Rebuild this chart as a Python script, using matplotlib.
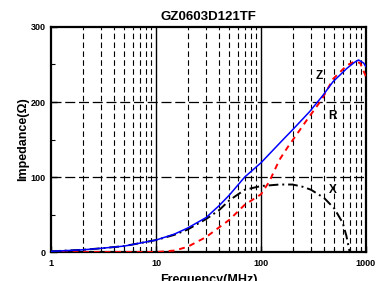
import numpy as np
import matplotlib
matplotlib.use("Agg")
import matplotlib.pyplot as plt
from matplotlib.ticker import FixedLocator, NullFormatter

# readings from the datasheet curve
freq_z = [1, 2, 3, 5, 10, 15, 20, 30, 40, 50, 70, 100, 160, 200, 290, 390, 485, 660, 780, 850, 950, 1000]
imp_z = [1, 3, 5, 8, 16, 24, 32, 46, 62, 76, 100, 119, 149, 163, 187, 209, 227, 245, 253, 256, 252, 247]

freq_r = [1, 2, 5, 10, 15, 20, 30, 40, 50, 70, 100, 120, 150, 180, 200, 280, 378, 488, 660, 780, 880, 1000]
imp_r = [0, 0, 0, 0, 2, 7, 20, 33, 43, 63, 77, 94, 123, 140, 149, 178, 203, 231, 249, 254, 252, 234]

freq_x = [1, 2, 3, 5, 10, 15, 20, 30, 40, 50, 70, 100, 150, 200, 250, 300, 400, 500, 600, 650, 700]
imp_x = [1, 3, 5, 8, 16, 23, 30, 44, 56, 69, 83, 88, 90, 90, 87, 83, 72, 58, 39, 22, 0]

plt.rcParams['font.family'] = ['Liberation Sans', 'DejaVu Sans']
plt.rcParams['font.weight'] = 'bold'

fig = plt.figure(figsize=(3.84, 2.81), dpi=100)
ax = fig.add_axes([0.133, 0.103, 0.820, 0.801])

minor_x = [m * 10 ** d for d in range(3) for m in range(2, 10)]
for v in minor_x:
    ax.axvline(v, color='black', lw=0.8, ls=(0, (5, 3)), zorder=1)
for v in [10, 100]:
    ax.axvline(v, color='black', lw=1.0, zorder=1)
for v in [100, 200]:
    ax.axhline(v, color='black', lw=0.9, ls=(0, (8, 3)), zorder=1)

ax.plot(freq_r, imp_r, color='red', lw=1.4, ls=(0, (3, 2.5)), zorder=3)
ax.plot(freq_x, imp_x, color='black', lw=1.4, ls=(0, (5, 2, 1, 2)), zorder=3)
ax.plot(freq_z, imp_z, color='blue', lw=1.1, zorder=4)

ax.set_xscale('log')
ax.set_xlim(1, 1000)
ax.set_ylim(0, 300)
ax.set_xticks([1, 10, 100, 1000])
ax.set_xticklabels(['1', '10', '100', '1000'])
ax.xaxis.set_minor_locator(FixedLocator(minor_x))
ax.xaxis.set_minor_formatter(NullFormatter())
ax.set_yticks([0, 100, 200, 300])
ax.yaxis.set_minor_locator(FixedLocator([50, 150, 250]))
ax.tick_params(axis='both', which='both', direction='in', labelsize=6.5)
ax.tick_params(axis='x', which='major', pad=5)
ax.tick_params(axis='y', which='major', pad=4)
ax.tick_params(axis='both', which='major', length=4, width=1)
ax.tick_params(axis='both', which='minor', length=3, width=0.8)
for s in ax.spines.values():
    s.set_linewidth(1.6)

ax.set_title('GZ0603D121TF', fontsize=9.5, fontweight='bold', pad=5)
ax.set_xlabel('Frequency(MHz)', fontsize=9, fontweight='bold', labelpad=4)
ax.set_ylabel('Impedance(Ω)', fontsize=9, fontweight='bold', labelpad=1)

ax.text(357, 235, 'Z', fontsize=8.5, fontweight='bold', ha='center', va='center')
ax.text(485, 181, 'R', fontsize=8.5, fontweight='bold', ha='center', va='center')
ax.text(485, 83, 'X', fontsize=8.5, fontweight='bold', ha='center', va='center')

fig.savefig('out.png', dpi=100)
